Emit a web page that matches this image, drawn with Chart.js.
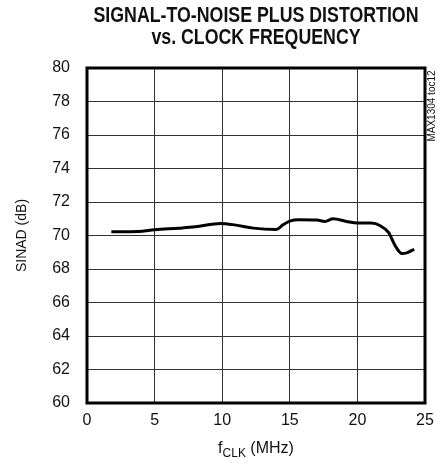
<!DOCTYPE html>
<html>
<head>
<meta charset="utf-8">
<script src="https://cdn.jsdelivr.net/npm/chart.js@4.4.1/dist/chart.umd.min.js"></script>
<style>
  html, body { margin: 0; padding: 0; background: #fff; }
  #wrap { width: 437px; height: 471px; }
</style>
</head>
<body>
<div id="wrap"><canvas id="sinadChart" width="437" height="471"></canvas></div>
<script>
// Data
const clockMHz = [1.8, 3.8, 5.0, 6.8, 8.0, 9.9, 11.0, 12.3, 14.0, 14.5, 15.0, 15.7, 17.0, 17.6, 18.2, 19.2, 20.0, 21.0, 21.7, 22.3, 22.8, 23.3, 23.7, 24.2];
const sinadDb  = [70.22, 70.24, 70.34, 70.44, 70.52, 70.72, 70.62, 70.44, 70.36, 70.64, 70.86, 70.94, 70.92, 70.84, 71.0, 70.84, 70.74, 70.74, 70.58, 70.18, 69.38, 68.92, 68.98, 69.18];
const titleLines = ["SIGNAL-TO-NOISE PLUS DISTORTION", "vs. CLOCK FREQUENCY"];
const sideLabel = "MAX1304 toc12";

const FONT = "'Liberation Sans', Arial, sans-serif";

// titres, bordure et étiquette latérale
const extrasPlugin = {
    id: "extras",
    afterDraw(chart) {
        const ctx = chart.ctx;
        const area = chart.chartArea;
        const cx = (area.left + area.right) / 2;

        // cadre épais
        ctx.save();
        ctx.strokeStyle = "#000";
        ctx.lineWidth = 3;
        ctx.strokeRect(area.left, area.top, area.right - area.left, area.bottom - area.top);
        ctx.restore();

        // titre (police condensée)
        ctx.save();
        ctx.fillStyle = "#111";
        ctx.font = "bold 22px " + FONT;
        ctx.textAlign = "center";
        ctx.textBaseline = "middle";
        const w0 = ctx.measureText(titleLines[0]).width;
        const sx = 325 / w0;
        [16, 38].forEach((y, i) => {
            ctx.save();
            ctx.translate(cx, y);
            ctx.scale(sx, 1);
            ctx.fillText(titleLines[i], 0, 0);
            ctx.restore();
        });
        ctx.restore();

        // titre de l'axe x avec indice
        ctx.save();
        ctx.fillStyle = "#111";
        ctx.textBaseline = "alphabetic";
        const base = 453;
        ctx.font = "16px " + FONT;
        const fW = ctx.measureText("f").width;
        const restW = ctx.measureText(" (MHz)").width;
        ctx.font = "12px " + FONT;
        const subW = ctx.measureText("CLK").width;
        let x = cx - (fW + subW + restW) / 2;
        ctx.font = "16px " + FONT;
        ctx.fillText("f", x, base);
        x += fW;
        ctx.font = "12px " + FONT;
        ctx.fillText("CLK", x, base + 4);
        x += subW;
        ctx.font = "16px " + FONT;
        ctx.fillText(" (MHz)", x, base);
        ctx.restore();

        // étiquette verticale à droite
        ctx.save();
        ctx.fillStyle = "#111";
        ctx.font = "10px " + FONT;
        ctx.textAlign = "center";
        ctx.textBaseline = "middle";
        ctx.translate(432, 106);
        ctx.rotate(-Math.PI / 2);
        ctx.fillText(sideLabel, 0, 0);
        ctx.restore();
    }
};

new Chart(document.getElementById("sinadChart"), {
    type: "line",
    data: {
        datasets: [{
            label: "SINAD",
            data: clockMHz.map((f, i) => ({ x: f, y: sinadDb[i] })),
            borderColor: "#000",
            borderWidth: 3,
            pointRadius: 0,
            fill: false,
            cubicInterpolationMode: "monotone",
        }]
    },
    options: {
        responsive: false,
        animation: false,
        layout: { padding: { top: 68, right: 12, left: 14, bottom: 0 } },
        plugins: {
            legend: { display: false },
            tooltip: { enabled: false },
        },
        scales: {
            x: {
                type: "linear",
                min: 0,
                max: 25,
                ticks: { stepSize: 5, color: "#111", font: { family: FONT, size: 16 }, padding: 8, maxRotation: 0 },
                grid: { color: "#333", lineWidth: 1, drawTicks: false },
                border: { display: false },
                afterFit: s => { s.height = 68; s.paddingRight = 0; s.paddingLeft = 0; },
            },
            y: {
                min: 60,
                max: 80,
                ticks: { stepSize: 2, color: "#111", font: { family: FONT, size: 16 }, padding: 17 },
                grid: { color: "#333", lineWidth: 1, drawTicks: false },
                border: { display: false },
                title: { display: true, text: "SINAD (dB)", color: "#111", font: { family: FONT, size: 14 }, padding: 0 },
                afterFit: s => { s.width = 73; s.paddingTop = 0; s.paddingBottom = 0; },
            },
        },
    },
    plugins: [extrasPlugin],
});
</script>
</body>
</html>
